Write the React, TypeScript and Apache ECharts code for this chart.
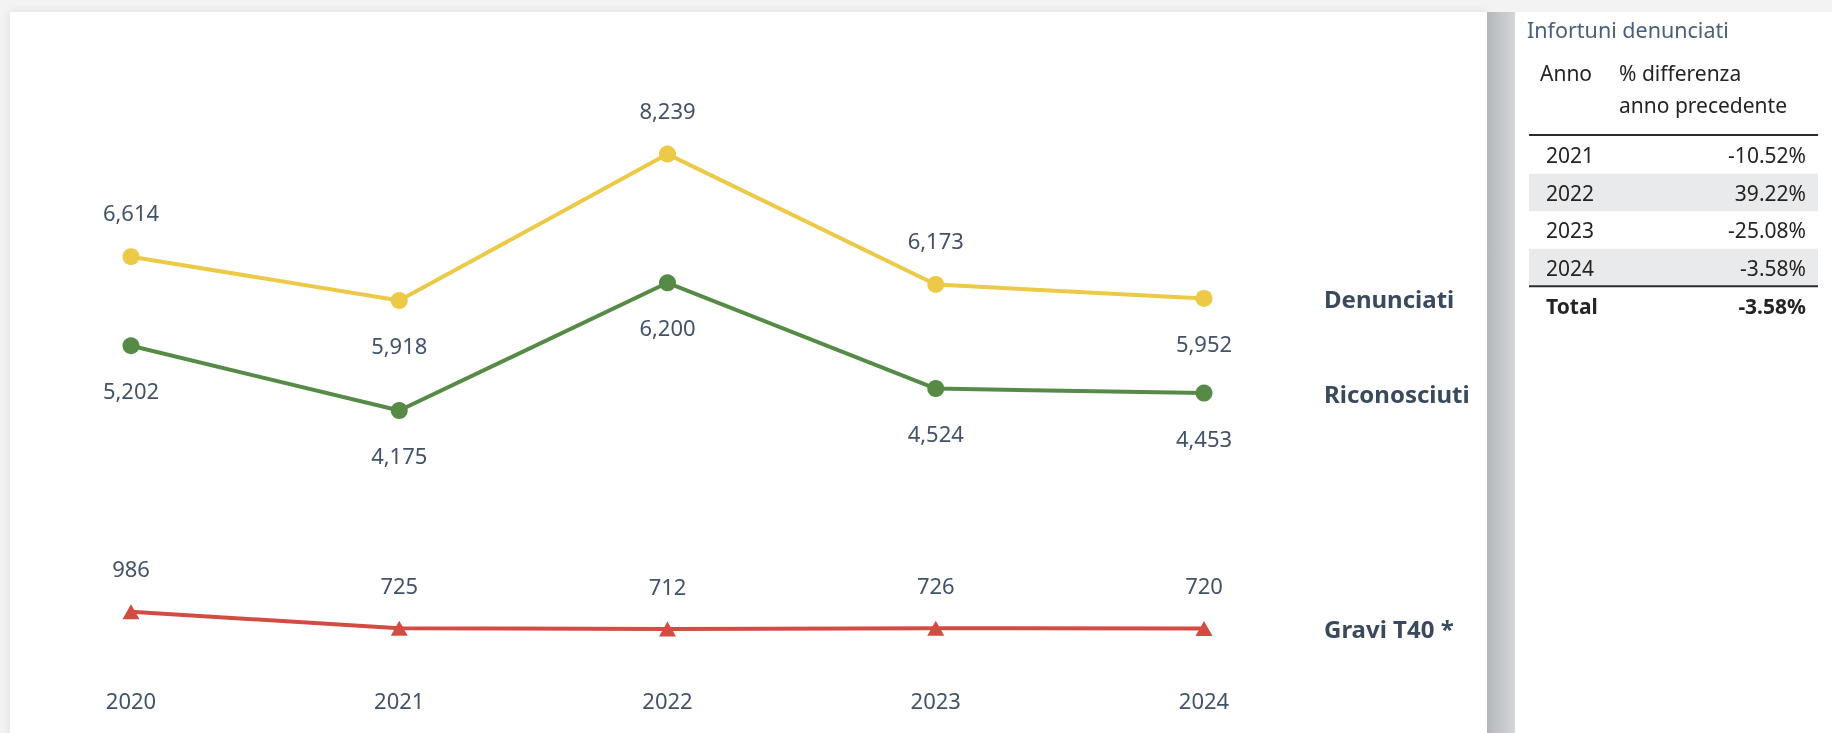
import React, { useEffect, useRef } from "react";
import * as echarts from "echarts";

const years = ["2020", "2021", "2022", "2023", "2024"];
const denunciati = [6614, 5918, 8239, 6173, 5952];
const riconosciuti = [5202, 4175, 6200, 4524, 4453];
const gravi = [986, 725, 712, 726, 720];
const denunciatiLabelPos = ["top", "bottom", "top", "top", "bottom"];
const riconosciutiLabelPos = ["bottom", "bottom", "bottom", "bottom", "bottom"];
const graviLabelPos = ["top", "top", "top", "top", "top"];
const seriesNames = ["Denunciati", "Riconosciuti", "Gravi T40 *"];
const tableTitle = "Infortuni denunciati";
const tableHeader = ["Anno", "% differenza", "anno precedente"];
const totalLabel = "Total";

const FONT = '"Noto Sans", "Open Sans", sans-serif';
const VALUE_COLOR = "#425268";
const NAME_COLOR = "#3a495c";

const fmt = (v: number) => v.toLocaleString("en-US");
const pct = (a: number, b: number) => (((b - a) / a) * 100).toFixed(2) + "%";

export default function App() {
  const ref = useRef<HTMLDivElement>(null);
  useEffect(() => {
    if (!ref.current) return;
    const chart = echarts.init(ref.current, undefined, { renderer: "svg" });

    const tableYears = years.slice(1);
    const tablePct = tableYears.map((_, i) => pct(denunciati[i], denunciati[i + 1]));
    const totalPct = tablePct[tablePct.length - 1];

    const rowY0 = 155;
    const rowH = 37.5;
    const tableLeft = 1529;
    const tableRight = 1818;
    const graphics: any[] = [
      { type: "rect", z: -10, silent: true, shape: { x: 0, y: 0, width: 1832, height: 733 }, style: { fill: "#f3f3f3" } },
      {
        type: "rect", z: -9, silent: true,
        shape: { x: 10, y: 12, width: 1477, height: 740 },
        style: { fill: "#ffffff", shadowBlur: 8, shadowColor: "rgba(0,0,0,0.10)" },
      },
      { type: "rect", z: -9, silent: true, shape: { x: 1515, y: 12, width: 330, height: 740 }, style: { fill: "#ffffff" } },
      {
        type: "rect", z: -8, silent: true,
        shape: { x: 1487, y: 12, width: 28, height: 740 },
        style: {
          fill: new echarts.graphic.LinearGradient(0, 0, 1, 0, [
            { offset: 0, color: "#b3b6bb" },
            { offset: 1, color: "#d4d6d9" },
          ]),
        },
      },
      {
        type: "text", z: 5,
        style: { text: tableTitle, x: 1527, y: 29, fill: "#48607a", fontSize: 21.5, fontFamily: FONT, verticalAlign: "middle", align: "left" },
      },
      {
        type: "text", z: 5,
        style: { text: tableHeader[0], x: 1540, y: 73, fill: "#252423", fontSize: 21, fontFamily: FONT, verticalAlign: "middle", align: "left" },
      },
      {
        type: "text", z: 5,
        style: { text: tableHeader[1], x: 1619, y: 73, fill: "#252423", fontSize: 21, fontFamily: FONT, verticalAlign: "middle", align: "left" },
      },
      {
        type: "text", z: 5,
        style: { text: tableHeader[2], x: 1619, y: 105, fill: "#252423", fontSize: 21, fontFamily: FONT, verticalAlign: "middle", align: "left" },
      },
    ];
    tableYears.forEach((y, i) => {
      const cy = rowY0 + i * rowH;
      if (i % 2 === 1) {
        graphics.push({
          type: "rect", z: 1, silent: true,
          shape: { x: tableLeft, y: cy - rowH / 2, width: tableRight - tableLeft, height: rowH },
          style: { fill: "#e9eaec" },
        });
      }
      graphics.push({
        type: "text", z: 5,
        style: { text: y, x: 1546, y: cy, fill: "#252423", fontSize: 21, fontFamily: FONT, verticalAlign: "middle", align: "left" },
      });
      graphics.push({
        type: "text", z: 5,
        style: { text: tablePct[i], x: 1806, y: cy, fill: "#252423", fontSize: 21, fontFamily: FONT, verticalAlign: "middle", align: "right" },
      });
    });
    const lineBottomY = rowY0 + (tableYears.length - 0.5) * rowH;
    graphics.push(
      { type: "line", z: 6, silent: true, shape: { x1: tableLeft, y1: 135, x2: tableRight, y2: 135 }, style: { stroke: "#2b2b33", lineWidth: 2 } },
      { type: "line", z: 6, silent: true, shape: { x1: tableLeft, y1: lineBottomY, x2: tableRight, y2: lineBottomY }, style: { stroke: "#2b2b33", lineWidth: 2 } },
      {
        type: "text", z: 5,
        style: { text: totalLabel, x: 1546, y: 306, fill: "#252423", fontSize: 21, fontWeight: "bold", fontFamily: FONT, verticalAlign: "middle", align: "left" },
      },
      {
        type: "text", z: 5,
        style: { text: totalPct, x: 1806, y: 306, fill: "#252423", fontSize: 21, fontWeight: "bold", fontFamily: FONT, verticalAlign: "middle", align: "right" },
      }
    );

    const mkSeries = (name: string, values: number[], pos: string[], color: string, symbol: string, symbolSize: any) => ({
      name,
      type: "line",
      data: values.map((v, i) => ({ value: v, label: { position: pos[i] } })),
      symbol,
      symbolSize,
      showAllSymbol: true,
      lineStyle: { color, width: 4 },
      itemStyle: { color },
      label: {
        show: true,
        distance: 23,
        fontSize: 22,
        lineHeight: 26,
        fontFamily: FONT,
        color: VALUE_COLOR,
        formatter: (p: any) => fmt(p.value),
      },
      endLabel: {
        show: true,
        formatter: name,
        distance: 120,
        fontSize: 24,
        fontWeight: "bold",
        fontFamily: FONT,
        color: NAME_COLOR,
        align: "left",
        verticalAlign: "middle",
      },
      z: 3,
    });

    chart.setOption({
      animation: false,
      textStyle: { fontFamily: FONT },
      graphic: { elements: graphics },
      grid: { left: 131, top: 43, width: 1073, height: 631 },
      xAxis: {
        type: "category",
        data: years,
        boundaryGap: false,
        axisLine: { show: false },
        axisTick: { show: false },
        splitLine: { show: false },
        axisLabel: { color: VALUE_COLOR, fontSize: 22, fontFamily: FONT, margin: 15 },
      },
      yAxis: { type: "value", min: 0, max: 10000, show: false, splitLine: { show: false } },
      series: [
        mkSeries(seriesNames[0], denunciati, denunciatiLabelPos, "#ecc946", "circle", 17),
        mkSeries(seriesNames[1], riconosciuti, riconosciutiLabelPos, "#568a47", "circle", 17),
        mkSeries(seriesNames[2], gravi, graviLabelPos, "#d24c44", "triangle", [17, 15]),
      ],
    });
    return () => chart.dispose();
  }, []);
  return <div ref={ref} style={{ position: "fixed", left: 0, top: 0, width: 1832, height: 733 }} />;
}
